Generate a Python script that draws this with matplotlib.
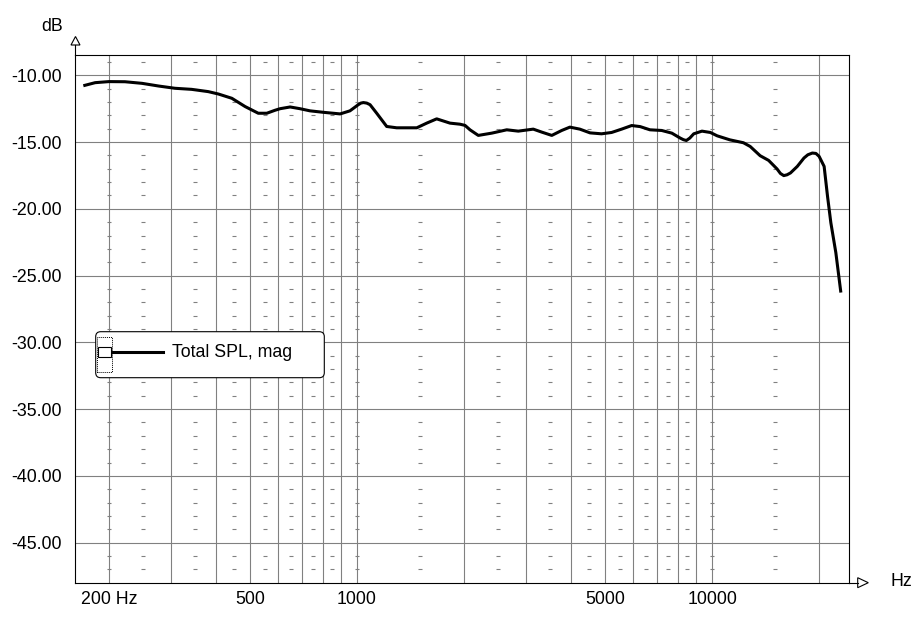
import matplotlib
matplotlib.use("Agg")
import matplotlib.pyplot as plt
from matplotlib.patches import FancyBboxPatch, Polygon, Rectangle
from matplotlib.lines import Line2D
from matplotlib.transforms import IdentityTransform

W, H = 921, 625

# Total SPL magnitude
freq_hz = [169.5, 183, 200, 222, 248, 276, 307, 342, 381, 407, 444, 484, 527,
           557, 587, 607, 648, 691, 737, 804, 896, 955, 1008, 1025, 1042, 1065,
           1088, 1136, 1212, 1293, 1473, 1571, 1676, 1827, 1949, 2014, 2080,
           2195, 2395, 2640, 2845, 3135, 3310, 3535, 3770, 3975, 4240, 4530,
           4880, 5210, 5560, 5935, 6270, 6680, 7210, 7700, 8130, 8300, 8460,
           8650, 8875, 9360, 9885, 10330, 11210, 12250, 12800, 13650, 14420,
           15230, 15570, 15910, 16250, 16620, 17370, 18140, 18600, 19150,
           19600, 20010, 20670, 21130, 21590, 22300, 23040]
spl_db = [-10.78, -10.55, -10.47, -10.48, -10.60, -10.80, -10.97, -11.05,
          -11.22, -11.40, -11.72, -12.34, -12.84, -12.84, -12.62, -12.50,
          -12.37, -12.50, -12.66, -12.77, -12.89, -12.66, -12.20, -12.08,
          -12.04, -12.08, -12.20, -12.84, -13.83, -13.93, -13.93, -13.58,
          -13.26, -13.58, -13.66, -13.75, -14.08, -14.50, -14.33, -14.08,
          -14.18, -14.03, -14.25, -14.50, -14.13, -13.88, -14.03, -14.31,
          -14.38, -14.28, -14.03, -13.76, -13.84, -14.08, -14.13, -14.33,
          -14.70, -14.82, -14.88, -14.70, -14.38, -14.18, -14.28, -14.53,
          -14.83, -15.05, -15.33, -16.02, -16.37, -17.01, -17.35, -17.51,
          -17.45, -17.31, -16.82, -16.19, -15.95, -15.82, -15.85, -16.07,
          -16.82, -19.06, -21.04, -23.28, -26.27]
series_name = "Total SPL, mag"

x_tick_freqs = [200, 500, 1000, 5000, 10000]
x_tick_labels = ["200 Hz", "500", "1000", "5000", "10000"]
x_grid_freqs = [200, 300, 400, 500, 600, 700, 800, 900, 1000, 2000, 3000,
                4000, 5000, 6000, 7000, 8000, 9000, 10000, 20000]
dash_freqs = [200, 250, 350, 450, 550, 650, 750, 850, 1000, 1500, 2500, 3500,
              4500, 5500, 6500, 7500, 8500, 10000, 15000]
y_ticks = [-10, -15, -20, -25, -30, -35, -40, -45]

plt.rcParams["font.family"] = ["Liberation Sans", "DejaVu Sans"]
plt.rcParams["font.size"] = 12.8
plt.rcParams["axes.unicode_minus"] = False

fig = plt.figure(figsize=(W / 100, H / 100), dpi=100)
left, right, top, bottom = 75.3, 848.7, 55.3, 582.7
ax = fig.add_axes([left / W, 1 - bottom / H, (right - left) / W, (bottom - top) / H])

ax.set_xscale("log")
ax.set_xlim(160.9, 24240)
ax.set_ylim(-48.0, -8.5)

# grid
for f in x_grid_freqs:
    ax.axvline(f, color="#808080", lw=0.8, zorder=1)
for v in y_ticks:
    ax.axhline(v, color="#808080", lw=0.8, zorder=1)
dash_y = [v for v in range(-47, -8) if v % 5 != 0]
dx = [f for f in dash_freqs for _ in dash_y]
dy = [v for _ in dash_freqs for v in dash_y]
ax.plot(dx, dy, ls="none", marker="_", ms=3.0, mew=0.8, color="#808080", zorder=1.5)

ax.plot(freq_hz, spl_db, color="black", lw=2.2, solid_joinstyle="round",
        solid_capstyle="butt", zorder=3)

ax.set_xticks(x_tick_freqs, x_tick_labels)
ax.xaxis.set_minor_locator(matplotlib.ticker.NullLocator())
ax.set_yticks(y_ticks, [f"{v:.2f}" for v in y_ticks])
ax.tick_params(axis="both", length=0)
ax.tick_params(axis="y", pad=10)
ax.tick_params(axis="x", pad=6)
for s in ax.spines.values():
    s.set_color("black")
    s.set_linewidth(0.8)

px = IdentityTransform()

# axis arrows
fig.add_artist(Line2D([left, left], [H - top, H - 45], color="black", lw=0.8, transform=px))
fig.add_artist(Polygon([[71, H - 45], [80, H - 45], [75.5, H - 36.5]], closed=True,
                       facecolor="white", edgecolor="black", lw=0.8, transform=px))
fig.add_artist(Line2D([right, 857.7], [H - bottom, H - bottom], color="black", lw=0.8, transform=px))
fig.add_artist(Polygon([[857.7, H - 577.7], [857.7, H - 587.7], [868.3, H - bottom]], closed=True,
                       facecolor="white", edgecolor="black", lw=0.8, transform=px))
fig.text(51.7, H - 26.7, "dB", ha="center", va="center", transform=px)
fig.text(901, H - 581, "Hz", ha="center", va="center", transform=px)

# legend
fig.add_artist(FancyBboxPatch((95.7, H - 377.7), 228.6, 46, boxstyle="round,pad=0,rounding_size=5",
                              facecolor="white", edgecolor="black", lw=0.8, transform=px, zorder=5))
fig.add_artist(Rectangle((96.7, H - 372.3), 15.6, 35, fill=False, edgecolor="black",
                         lw=0.7, ls=(0, (1, 1)), transform=px, zorder=6))
fig.add_artist(Rectangle((98.3, H - 357.3), 12.7, 10.6, facecolor="white", edgecolor="black",
                         lw=0.8, transform=px, zorder=6))
fig.add_artist(Line2D([113.3, 163.3], [H - 352.3, H - 352.3], color="black", lw=2.2,
                      transform=px, zorder=6))
fig.text(172.3, H - 352.3, series_name, ha="left", va="center", transform=px, zorder=7)

fig.savefig("out.png", dpi=100)
